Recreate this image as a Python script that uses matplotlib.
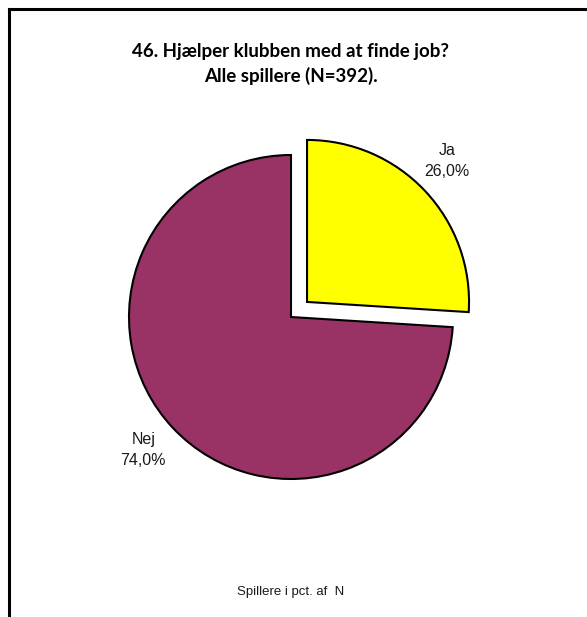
import matplotlib
matplotlib.use("Agg")
import matplotlib.pyplot as plt
from matplotlib.lines import Line2D

# data
categories = ["Ja", "Nej"]
shares = [26.0, 74.0]
colors = ["#FFFF00", "#993366"]

title = "46. Hjælper klubben med at finde job?\nAlle spillere (N=392)."
footer = "Spillere i pct. af  N"

W, H = 587, 617
fig = plt.figure(figsize=(W / 100, H / 100), dpi=100)
ax = fig.add_axes([0, 0, 1, 1])
ax.set_xlim(0, W)
ax.set_ylim(0, H)
ax.set_aspect("equal")
ax.axis("off")

labels = [f"{c}\n{v:.1f}%".replace(".", ",") for c, v in zip(categories, shares)]

wedges, texts = ax.pie(
    shares,
    labels=labels,
    colors=colors,
    startangle=90,
    counterclock=False,
    center=(291, H - 317),
    radius=162,
    explode=[22, 0],
    labeldistance=1.2,
    wedgeprops=dict(edgecolor="black", linewidth=1.5),
    textprops=dict(fontsize=11.5, family="Liberation Sans", color="#1a1a1a"),
    frame=True,
)
# small nudges so labels sit like the original
nudges = [(-2, 8), (-6, 0)]
for t, (dx, dy) in zip(texts, nudges):
    x, y = t.get_position()
    t.set_position((x + dx, y + dy))
    t.set_ha("center")
    t.set_va("center")
    t.set_linespacing(1.45)

ax.set_xlim(0, W)
ax.set_ylim(0, H)
ax.axis("off")

fig.text(291 / W, 1 - 64 / H, title, ha="center", va="center",
         fontsize=13.5, fontweight="bold", family="Lato", linespacing=1.5)
fig.text(291 / W, 1 - 592 / H, footer, ha="center", va="center",
         fontsize=9.5, family="Liberation Sans", color="#1a1a1a")

# frame lines (top and left)
fig.add_artist(Line2D([9 / W, 1], [1 - 9 / H, 1 - 9 / H], color="black", lw=2.2))
fig.add_artist(Line2D([9 / W, 9 / W], [0, 1 - 9 / H], color="black", lw=2.2))

fig.savefig("out.png", dpi=100, facecolor="white")
